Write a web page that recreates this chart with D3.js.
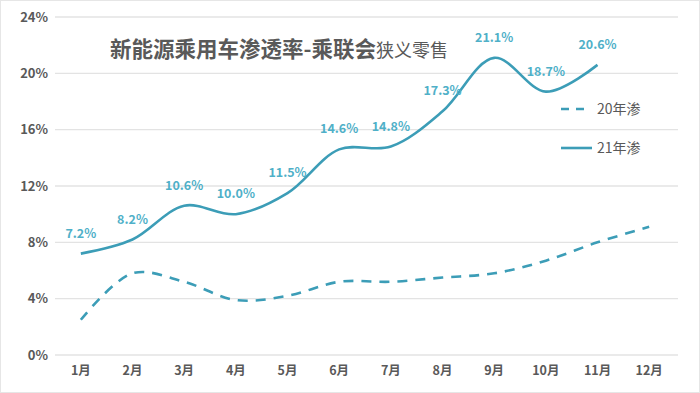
<!DOCTYPE html>
<html><head><meta charset="utf-8">
<script src="https://cdn.jsdelivr.net/npm/d3@7"></script>
<style>html,body{margin:0;padding:0;background:#fff}svg{display:block}</style>
</head><body><svg id="c" width="700" height="393"></svg>
<script>
const months = ["1月","2月","3月","4月","5月","6月","7月","8月","9月","10月","11月","12月"];
const s20 = [2.5,5.8,5.2,3.9,4.2,5.2,5.2,5.5,5.8,6.7,8.0,9.1];
const s21 = [7.2,8.2,10.6,10.0,11.5,14.6,14.8,17.3,21.1,18.7,20.6];
const yTicks = [0,4,8,12,16,20,24];
const seriesNames = ["20年渗","21年渗"];

const svg = d3.select("#c");
const font = "'Noto Sans CJK SC','Noto Sans',sans-serif";
svg.append("rect").attr("x",0.5).attr("y",0.5).attr("width",699).attr("height",392).attr("fill","#fff").attr("stroke","#e6e6e6");

const x = d3.scaleBand().domain(months).range([55,675]);
const y = d3.scaleLinear().domain([0,24]).range([355,17]);
const cx = m => x(m)+x.bandwidth()/2;

// grid
svg.append("g").selectAll("line").data(yTicks).join("line")
 .attr("x1",55).attr("x2",678).attr("y1",d=>y(d)).attr("y2",d=>y(d))
 .attr("stroke","#e3e3e3").attr("stroke-width",1.3);

const yAxis = svg.append("g").attr("transform","translate(48,0)")
 .call(d3.axisLeft(y).tickValues(yTicks).tickFormat(d=>d+"%").tickSize(0).tickPadding(0));
yAxis.select(".domain").remove();
yAxis.selectAll("text").attr("font-family",font).attr("font-size",13).attr("fill","#595959").attr("font-weight","bold");

const xAxis = svg.append("g").attr("transform","translate(0,362)")
 .call(d3.axisBottom(x).tickSize(0).tickPadding(4));
xAxis.select(".domain").remove();
xAxis.selectAll("text").attr("font-family",font).attr("font-size",12.5).attr("fill","#595959").attr("font-weight","bold");

const color = "#3c9db7";
const line = d3.line().x((d,i)=>cx(months[i])).y(d=>y(d)).curve(d3.curveCatmullRom.alpha(0.5));
svg.append("path").attr("d",line(s20)).attr("fill","none").attr("stroke",color).attr("stroke-width",2.6).attr("stroke-dasharray","10,8");
svg.append("path").attr("d",line(s21)).attr("fill","none").attr("stroke",color).attr("stroke-width",2.6);

svg.append("g").selectAll("text").data(s21).join("text")
 .attr("x",(d,i)=>cx(months[i])).attr("y",(d)=>y(d)-16)
 .attr("text-anchor","middle").attr("font-family",font).attr("font-size",12.5).attr("font-weight","bold")
 .attr("fill","#4fb0c8").text(d=>d.toFixed(1)+"%");

// title
const t = svg.append("text").attr("x",110).attr("y",57).attr("font-family",font).attr("fill","#595959");
t.append("tspan").attr("font-size",21.5).attr("font-weight","bold").text("新能源乘用车渗透率-乘联会");
t.append("tspan").attr("font-size",18).text("狭义零售");

// legend
const lg = svg.append("g");
lg.append("line").attr("x1",561).attr("x2",587).attr("y1",109).attr("y2",109).attr("stroke",color).attr("stroke-width",2.6).attr("stroke-dasharray","8,7");
lg.append("line").attr("x1",561).attr("x2",592).attr("y1",148).attr("y2",148).attr("stroke",color).attr("stroke-width",2.6);
lg.selectAll("text").data(seriesNames).join("text").attr("x",597).attr("y",(d,i)=>i?153:114)
 .attr("font-family",font).attr("font-size",14).attr("fill","#595959").text(d=>d);
</script></body></html>
